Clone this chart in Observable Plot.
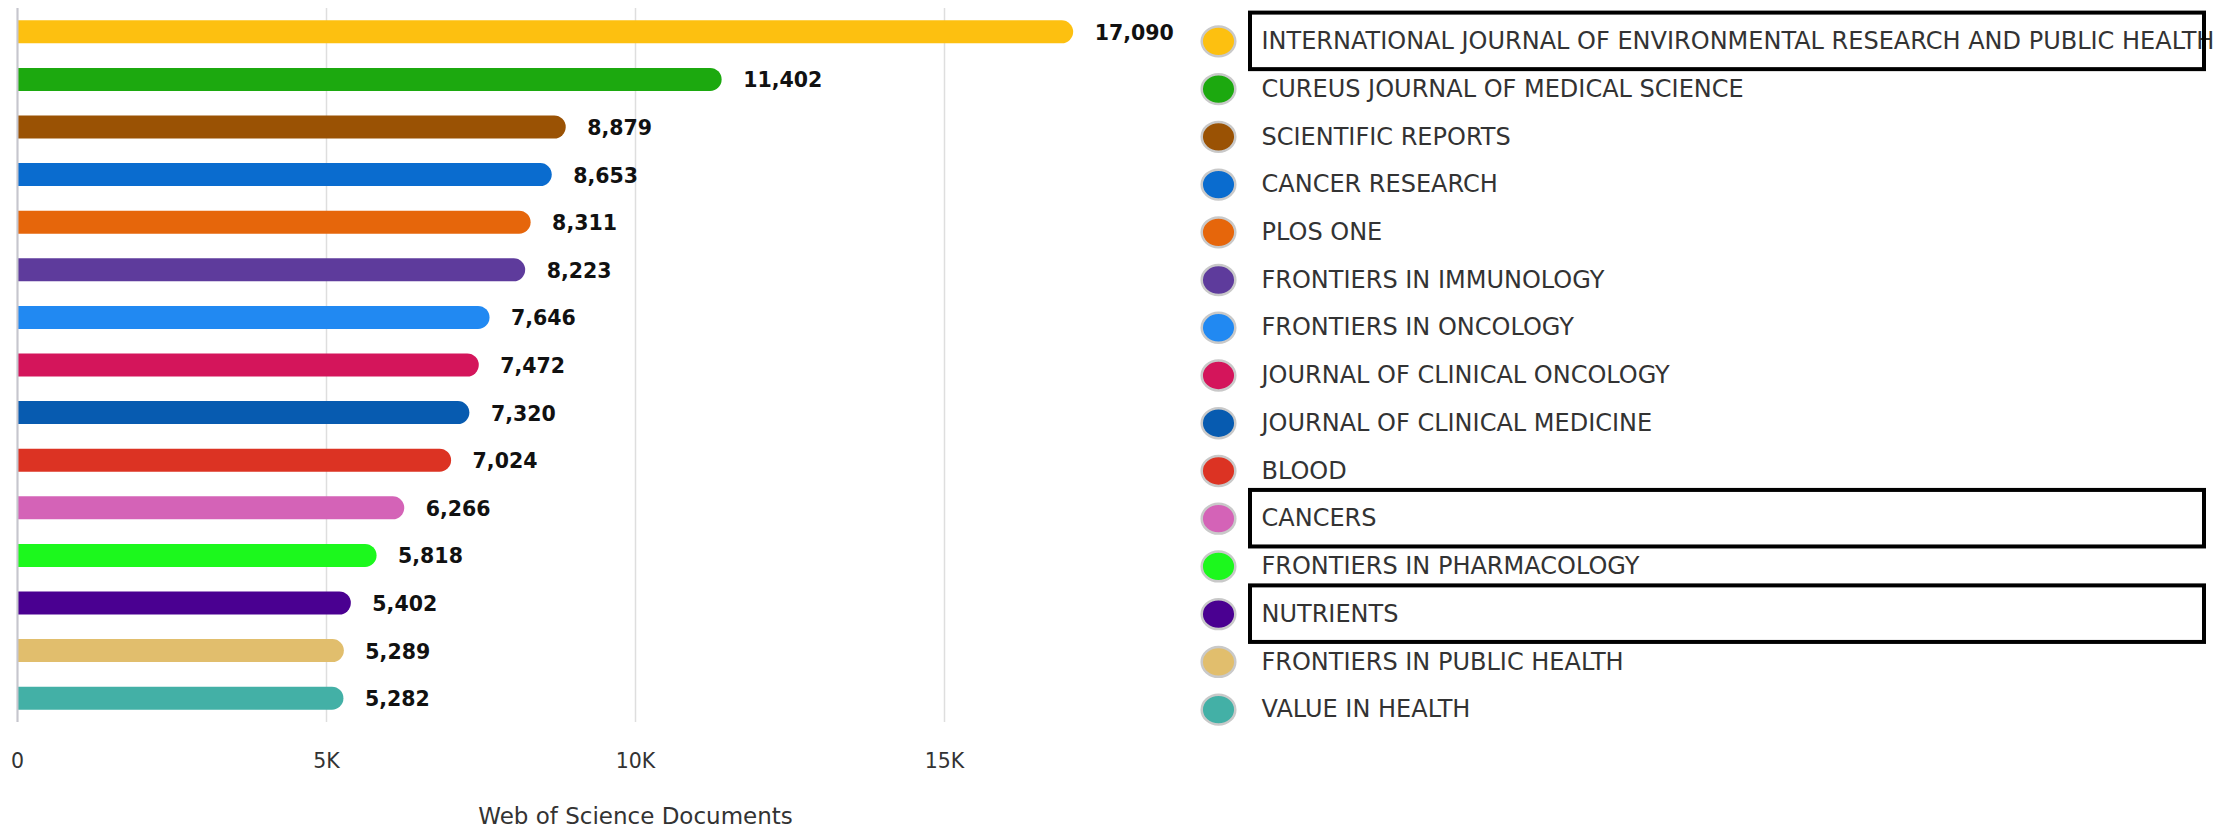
<!DOCTYPE html>
<html><head><meta charset="utf-8">
<script src="https://cdn.jsdelivr.net/npm/d3@7"></script>
<script src="https://cdn.jsdelivr.net/npm/@observablehq/plot@0.6"></script>
<style>
html,body{margin:0;padding:0;background:#fff;overflow:hidden;}
#wrap{position:relative;width:2219px;height:829px;overflow:hidden;background:#fff;}
#wrap > svg{position:absolute;top:0;max-width:none;}
</style></head><body><div id="wrap"></div>
<script>
const journals = [
  "INTERNATIONAL JOURNAL OF ENVIRONMENTAL RESEARCH AND PUBLIC HEALTH",
  "CUREUS JOURNAL OF MEDICAL SCIENCE",
  "SCIENTIFIC REPORTS",
  "CANCER RESEARCH",
  "PLOS ONE",
  "FRONTIERS IN IMMUNOLOGY",
  "FRONTIERS IN ONCOLOGY",
  "JOURNAL OF CLINICAL ONCOLOGY",
  "JOURNAL OF CLINICAL MEDICINE",
  "BLOOD",
  "CANCERS",
  "FRONTIERS IN PHARMACOLOGY",
  "NUTRIENTS",
  "FRONTIERS IN PUBLIC HEALTH",
  "VALUE IN HEALTH"
];
const documents = [17090, 11402, 8879, 8653, 8311, 8223, 7646, 7472, 7320, 7024, 6266, 5818, 5402, 5289, 5282];
const colors = [
  "#fdc010", "#1ca90f", "#9a5204", "#0a6ccf", "#e6660b",
  "#5e3b9c", "#2189f2", "#d4155b", "#075bb0", "#dc3323",
  "#d463b7", "#1cf81d", "#4a0091", "#e1be6d", "#43b0a6"
];
const highlighted = [
  "INTERNATIONAL JOURNAL OF ENVIRONMENTAL RESEARCH AND PUBLIC HEALTH",
  "CANCERS",
  "NUTRIENTS"
];
const xTicks = [0, 5000, 10000, 15000];
const xTickLabels = ["0", "5K", "10K", "15K"];
const axisTitle = "Web of Science Documents";

const data = journals.map((j, i) => ({journal: j, value: documents[i], color: colors[i]}));
const FONT = "'DejaVu Sans', sans-serif";
const wrap = document.getElementById("wrap");

const chart = Plot.plot({
  width: 2219, height: 829,
  marginLeft: 17, marginRight: 966, marginTop: 8, marginBottom: 107,
  style: {fontFamily: FONT, background: "transparent"},
  x: {domain: [0, 20000], label: null, axis: null},
  y: {domain: journals, padding: 0, round: false, axis: null},
  color: {type: "identity"},
  marks: [
    Plot.ruleX(xTicks, {stroke: "#dedede", strokeWidth: 1.5}),
    Plot.barX(data, {x: "value", y: "journal", fill: "color", rx: 11.5, insetTop: 12.3, insetBottom: 12.3, insetLeft: -14, clip: true}),
    Plot.ruleX([0], {stroke: "#c6c6ce", strokeWidth: 2}),
    Plot.text(data, {x: "value", y: "journal", text: d => d3.format(",")(d.value), textAnchor: "start", dx: 21, dy: 1, fontWeight: "bold", fontSize: 20.5, fill: "#111"}),
    Plot.axisX({ticks: xTicks, tickFormat: d => xTickLabels[xTicks.indexOf(d)], tickSize: 0, tickPadding: 31, fontSize: 20.5, color: "#333", label: null}),
    Plot.text([axisTitle], {frameAnchor: "bottom", dy: 101, fontSize: 23, fill: "#333"})
  ]
});
chart.style.left = "0px";
wrap.appendChild(chart);

const ellipse = {
  draw(ctx, size) {
    const r = Math.sqrt(size / Math.PI);
    const a = r * 1.07, b = r * 0.95, k = 0.5523;
    ctx.moveTo(a, 0);
    ctx.bezierCurveTo(a, b * k, a * k, b, 0, b);
    ctx.bezierCurveTo(-a * k, b, -a, b * k, -a, 0);
    ctx.bezierCurveTo(-a, -b * k, -a * k, -b, 0, -b);
    ctx.bezierCurveTo(a * k, -b, a, -b * k, a, 0);
    ctx.closePath();
  }
};

const legend = Plot.plot({
  width: 1024, height: 829,
  marginLeft: 55, marginRight: 15, marginTop: 17, marginBottom: 96,
  style: {fontFamily: FONT, background: "transparent"},
  x: {domain: [0, 1], axis: null},
  y: {domain: journals, padding: 0, round: false, axis: null},
  color: {type: "identity"},
  marks: [
    Plot.dot(data, {x: 0, y: "journal", dx: -32, r: 15.7, symbol: ellipse, fill: "color", stroke: "#c9c9c9", strokeWidth: 2.5}),
    Plot.text(data, {x: 0, y: "journal", text: "journal", dx: 11, textAnchor: "start", fontSize: 24, fill: "#333"}),
    Plot.barX(data.filter(d => highlighted.includes(d.journal)), {x1: 0, x2: 1, y: "journal", fill: "none", stroke: "#000", strokeWidth: 4, insetTop: -4.4, insetBottom: -4.4})
  ]
});
legend.style.left = "1195px";
wrap.appendChild(legend);
</script>
</body></html>
